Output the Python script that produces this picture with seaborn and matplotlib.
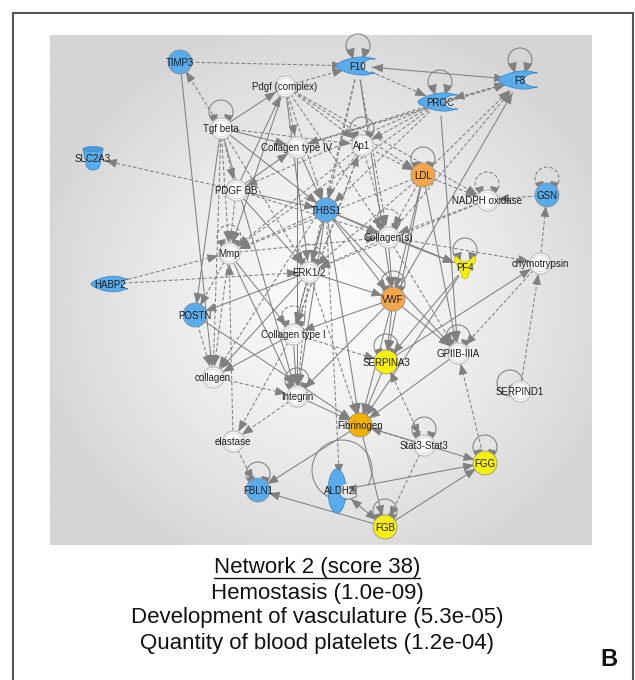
import numpy as np
import pandas as pd
import matplotlib
matplotlib.use("Agg")
import matplotlib.pyplot as plt
from matplotlib.patches import Polygon, Ellipse
import seaborn as sns

sns.set_theme(style="white")
plt.rcParams["font.family"] = ["Liberation Sans", "DejaVu Sans"]

# ---- network nodes -------------------------------------------------------
node_names = ["TIMP3", "F10", "F8", "PROC", "Pdgf (complex)", "Tgf beta", "SLC2A3",
              "Collagen type IV", "Ap1", "LDL", "NADPH oxidase", "GSN", "PDGF BB",
              "THBS1", "Collagen(s)", "PF4", "chymotrypsin", "Mmp", "ERK1/2", "HABP2",
              "POSTN", "VWF", "Collagen type I", "SERPINA3", "GPIIB-IIIA", "collagen",
              "Integrin", "SERPIND1", "Fibrinogen", "elastase", "Stat3-Stat3", "FGG",
              "FBLN1", "ALDH2", "FGB"]
node_x = [180, 358, 520, 440, 285, 221, 93, 297, 362, 423, 487, 547, 236, 326, 388,
          465, 540, 229, 309, 110, 195, 393, 293, 386, 458, 213, 297, 520, 360, 233,
          424, 485, 258, 340, 385]
node_y = [62, 66, 80, 102, 86, 128, 158, 147, 145, 175, 200, 195, 190, 210, 237,
          267, 263, 253, 272, 284, 315, 299, 334, 362, 353, 377, 396, 391, 425, 441,
          445, 463, 490, 490, 527]
node_kind = ["blue", "enzyme", "enzyme", "enzyme", "white", "white", "transporter",
             "white", "white", "orange", "white", "blue", "white",
             "blue", "white", "cytokine", "white", "white", "white", "peptidase",
             "blue", "orange", "white", "yellow", "white", "white",
             "white", "white", "gold", "white", "white", "yellow",
             "blue", "aldh", "yellow"]

# nodes drawn with a self-referencing loop
self_loops = ["F10", "F8", "PROC", "Tgf beta", "Ap1", "LDL", "NADPH oxidase", "GSN",
              "Collagen(s)", "PF4", "Mmp", "ERK1/2", "Collagen type I", "Integrin",
              "SERPINA3", "GPIIB-IIIA", "FBLN1", "Stat3-Stat3", "FGG", "FGB", "VWF"]
dashed_loops = ["GSN", "Collagen type I", "Mmp", "ERK1/2", "NADPH oxidase", "Collagen(s)"]

# ---- relationships: source, target, style (s solid / d dashed) -------------
edge_src = ["Tgf beta", "TIMP3", "Pdgf (complex)", "TIMP3", "Tgf beta", "Tgf beta", "Tgf beta",
            "Tgf beta", "Tgf beta", "Tgf beta", "Tgf beta", "Tgf beta", "Tgf beta", "Tgf beta",
            "Pdgf (complex)", "Pdgf (complex)", "Pdgf (complex)", "Pdgf (complex)",
            "Pdgf (complex)", "Pdgf (complex)", "Pdgf (complex)", "Pdgf (complex)",
            "PDGF BB", "PDGF BB", "PDGF BB", "PDGF BB", "PDGF BB", "PDGF BB", "PDGF BB",
            "Collagen type IV", "Collagen type IV", "Collagen type IV",
            "Ap1", "Ap1", "Ap1", "Ap1", "Ap1",
            "F10", "F10", "F10", "F10", "F10", "F10",
            "PROC", "PROC", "PROC", "PROC", "PROC", "PROC", "PROC",
            "VWF", "Collagen(s)", "LDL",
            "LDL", "LDL", "LDL", "LDL", "LDL", "LDL", "LDL",
            "GSN", "chymotrypsin", "NADPH oxidase", "NADPH oxidase",
            "THBS1", "THBS1", "THBS1", "THBS1", "THBS1", "THBS1", "THBS1", "THBS1", "THBS1",
            "THBS1",
            "Collagen(s)", "Collagen(s)", "Collagen(s)", "Collagen(s)", "Collagen(s)",
            "PF4", "PF4", "HABP2", "HABP2",
            "Mmp", "Mmp", "Mmp", "Mmp", "elastase", "Mmp",
            "ERK1/2", "ERK1/2", "ERK1/2", "ERK1/2", "ERK1/2", "ERK1/2",
            "POSTN", "POSTN",
            "Collagen type I", "Collagen type I", "Collagen type I", "Collagen type I",
            "VWF", "VWF", "VWF", "VWF", "VWF",
            "SERPINA3", "SERPINA3", "SERPINA3",
            "GPIIB-IIIA", "chymotrypsin", "SERPIND1",
            "collagen", "Integrin", "Integrin", "elastase",
            "Fibrinogen", "FGB", "Fibrinogen", "Fibrinogen",
            "Stat3-Stat3", "Stat3-Stat3", "FGB", "ALDH2", "ALDH2", "FGG",
            "Collagen type I", "Collagen type IV"]
edge_dst = ["TIMP3", "F10", "F10", "collagen", "Pdgf (complex)", "Collagen type IV", "Ap1",
            "PDGF BB", "Mmp", "POSTN", "collagen", "THBS1", "ERK1/2", "Integrin",
            "Collagen type IV", "Ap1", "THBS1", "ERK1/2",
            "Mmp", "Collagen(s)", "LDL", "NADPH oxidase",
            "SLC2A3", "Pdgf (complex)", "Collagen type IV", "THBS1", "Mmp", "ERK1/2",
            "Collagen(s)",
            "THBS1", "Integrin", "F8",
            "Mmp", "Collagen(s)", "collagen", "Collagen type I", "LDL",
            "F8", "PROC", "Collagen(s)", "THBS1", "VWF", "ERK1/2",
            "F8", "THBS1", "Ap1", "Collagen type IV", "PDGF BB", "GPIIB-IIIA", "Mmp",
            "F8", "F8", "F8",
            "NADPH oxidase", "VWF", "SERPINA3", "GPIIB-IIIA", "ERK1/2", "Collagen(s)", "Mmp",
            "NADPH oxidase", "GSN", "ERK1/2", "Collagen(s)",
            "ERK1/2", "Collagen(s)", "VWF", "PF4", "Collagen type I", "Integrin",
            "Fibrinogen", "GPIIB-IIIA", "Mmp",
            "ALDH2",
            "PF4", "chymotrypsin", "VWF", "GPIIB-IIIA", "ERK1/2",
            "Fibrinogen", "SERPINA3", "ERK1/2", "Mmp",
            "POSTN", "collagen", "Collagen type I", "Integrin", "Mmp", "Collagen(s)",
            "POSTN", "Collagen type I", "Integrin", "VWF", "Fibrinogen", "collagen",
            "collagen", "Fibrinogen",
            "Integrin", "collagen", "SERPINA3", "elastase",
            "SERPINA3", "Fibrinogen", "GPIIB-IIIA", "Collagen type I", "Integrin",
            "chymotrypsin", "Fibrinogen", "Stat3-Stat3",
            "Fibrinogen", "GPIIB-IIIA", "chymotrypsin",
            "Integrin", "Fibrinogen", "elastase", "FBLN1",
            "FBLN1", "FBLN1", "FGG", "FGB",
            "FGB", "Fibrinogen", "FGG", "FGG", "FGB", "GPIIB-IIIA",
            "Ap1", "F8"]
edge_style = ["d", "d", "d", "s", "s", "s", "d",
              "d", "d", "s", "d", "s", "d", "s",
              "d", "d", "d", "s",
              "s", "d", "d", "d",
              "d", "s", "s", "s", "d", "s",
              "d",
              "s", "s", "d",
              "d", "d", "d", "d", "d",
              "s", "d", "d", "d", "s", "d",
              "d", "d", "d", "d", "d", "s", "d",
              "s", "d", "d",
              "d", "s", "s", "s", "d", "d", "d",
              "d", "d", "d", "d",
              "s", "s", "s", "s", "s", "s",
              "s", "s", "d",
              "d",
              "s", "d", "s", "d", "d",
              "s", "s", "d", "d",
              "d", "d", "s", "s", "d", "d",
              "s", "d", "d", "s", "d", "s",
              "d", "s",
              "s", "s", "d", "d",
              "s", "s", "s", "s", "s",
              "s", "s", "d",
              "s", "d", "d",
              "d", "s", "d", "d",
              "s", "s", "s", "s",
              "d", "d", "s", "s", "s", "d",
              "d", "d"]
edge_both = ["F10|F8", "PROC|F8", "SERPINA3|Stat3-Stat3", "ALDH2|FGB"]

# ---- caption --------------------------------------------------------------
cap_title = "Network 2 (score 38)"
cap_lines = ["Hemostasis (1.0e-09)", "Development of vasculature (5.3e-05)",
             "Quantity of blood platelets (1.2e-04)"]
panel_letter = "B"

# ---- figure -------------------------------------------------------------
W, H = 635, 680
fig = plt.figure(figsize=(W / 100, H / 100), dpi=100)
ax = fig.add_axes([0, 0, 1, 1])
ax.set_xlim(0, W)
ax.set_ylim(H, 0)
ax.axis("off")

# grey panel with a soft radial gradient
px0, px1, py0, py1 = 50, 592, 35, 545
gx, gy = np.meshgrid(np.linspace(px0, px1, 300), np.linspace(py0, py1, 300))
dist = np.sqrt(((gx - 330) / 300) ** 2 + ((gy - 300) / 290) ** 2)
shade = 251 - 38 * np.clip(dist, 0, 1) ** 1.3
ax.imshow(shade, cmap="gray", vmin=0, vmax=255, extent=[px0, px1, py1, py0],
          zorder=0, interpolation="bilinear", aspect="auto")

# outer frame
frame_kw = dict(color="#555555", lw=1.5, solid_capstyle="butt", zorder=10)
ax.plot([12.5, 12.5], [12, H], **frame_kw)
ax.plot([12, 632.5], [12.5, 12.5], **frame_kw)
ax.plot([632.5, 632.5], [12, H], **frame_kw)

pos = {n: np.array([x, y], float) for n, x, y in zip(node_names, node_x, node_y)}
kind = dict(zip(node_names, node_kind))
radius = {"white": 10, "blue": 10, "orange": 10, "gold": 10, "yellow": 10,
          "enzyme": 14, "transporter": 12, "peptidase": 13, "cytokine": 11, "aldh": 14}

ecol = "#808080"


def head(tip, u):
    ax.annotate("", xy=tip, xytext=tip - u * 7,
                arrowprops=dict(arrowstyle="-|>,head_length=0.55,head_width=0.22",
                                color=ecol, lw=0.7, shrinkA=0, shrinkB=0), zorder=2)


for s, t, st in zip(edge_src, edge_dst, edge_style):
    p, q = pos[s], pos[t]
    u = (q - p) / np.linalg.norm(q - p)
    a = p + u * radius[kind[s]]
    b = q - u * (radius[kind[t]] + 1)
    ls = (0, (3.5, 2.0)) if st == "d" else "-"
    ax.plot([a[0], b[0]], [a[1], b[1]], color=ecol, lw=0.75, ls=ls, zorder=1)
    head(b, u)
    if f"{s}|{t}" in edge_both or f"{t}|{s}" in edge_both:
        head(a, -u)

# self loops above the nodes
for n in self_loops:
    x, y = pos[n]
    r = 12
    cy = y - radius[kind[n]] - 6
    th = np.radians(np.linspace(118, 422, 80))
    lx, ly = x + r * np.cos(th), cy + r * np.sin(th)
    ls = (0, (3.5, 2.0)) if n in dashed_loops else "-"
    ax.plot(lx, ly, color=ecol, lw=0.75, ls=ls, zorder=1)
    u = np.array([-0.25, 1.0]); u /= np.linalg.norm(u)
    head(np.array([lx[-1], ly[-1]]) + u * 3, u)
    u2 = np.array([0.25, 1.0]); u2 /= np.linalg.norm(u2)
    head(np.array([lx[0], ly[0]]) + u2 * 3, u2)

# SERPIND1 loop sits on its left, ALDH2 has a wide loop
for n, (ox, oy, r) in {"SERPIND1": (-10, -8, 13), "ALDH2": (2, -20, 30)}.items():
    x, y = pos[n]
    th = np.radians(np.linspace(60, 390, 90))
    lx, ly = x + ox + r * np.cos(th), y + oy + r * np.sin(th)
    ax.plot(lx, ly, color=ecol, lw=0.75, zorder=1)
    head(np.array([lx[0], ly[0]]), np.array([0.4, 0.9]) / np.linalg.norm([0.4, 0.9]))

# ---- node glyphs ----------------------------------------------------------
fills = {"blue": "#5AABEA", "orange": "#F5A64B", "gold": "#F2B100", "yellow": "#F7EE12",
         "enzyme": "#5AABEA", "transporter": "#5AABEA", "peptidase": "#5AABEA",
         "cytokine": "#F7EE12", "aldh": "#5AABEA"}
edges_c = {"#5AABEA": "#3E8CCB", "#F5A64B": "#D98A30", "#F2B100": "#D29600",
           "#F7EE12": "#CFC600"}

df = pd.DataFrame({"name": node_names, "x": node_x, "y": node_y, "kind": node_kind})
white = df[df.kind == "white"]
colored = df[df.kind.isin(["blue", "orange", "gold", "yellow"])]

# white nodes: pale double ring
sns.scatterplot(data=white, x="x", y="y", s=230, color="white", edgecolor="#c4c4c4",
                linewidth=1.0, ax=ax, zorder=3, legend=False)
sns.scatterplot(data=white, x="x", y="y", s=140, color="white", edgecolor="#dcdcdc",
                linewidth=0.8, ax=ax, zorder=3, legend=False)
sns.scatterplot(data=colored, x="x", y="y", hue="kind", s=300,
                palette={k: fills[k] for k in ["blue", "orange", "gold", "yellow"]},
                edgecolor="#8a8a8a", linewidth=0.5, ax=ax, zorder=3, legend=False)


def add_poly(pts, color):
    ax.add_patch(Polygon(pts, closed=True, facecolor=color,
                         edgecolor=edges_c[color], lw=0.6, zorder=3))


def crescent(a, b, open_deg=35, notch_depth=0.5, notch_h=0.6, taper=0.45):
    """Leaf-like outline pointing left with a concave notch cut on its right side."""
    th = np.radians(np.linspace(open_deg, 360 - open_deg, 80))
    shrink = 1 - taper * (1 - (1 + np.cos(th)) / 2) ** 2
    outer = np.c_[a * np.cos(th), b * np.sin(th) * shrink]
    c0 = a * np.cos(np.radians(open_deg)) * 1.12
    ph = np.radians(np.linspace(-90, -270, 40))
    inner = np.c_[c0 + notch_depth * a * np.cos(ph), notch_h * b * np.sin(ph)]
    return np.vstack([outer, inner])


for n, k in zip(node_names, node_kind):
    x, y = pos[n]
    if k == "enzyme":
        add_poly(crescent(22, 10, open_deg=45, notch_depth=0.62, notch_h=0.72) + [x, y],
                 fills[k])
    elif k == "peptidase":
        add_poly(crescent(19, 8.5, open_deg=32, notch_depth=0.32, notch_h=0.6) + [x, y],
                 fills[k])
    elif k == "transporter":
        th = np.radians(np.linspace(0, 180, 30))
        bottom = np.c_[7 * np.cos(th), 6 + 6 * np.sin(th)]
        pts = np.vstack([[[-10, -9], [10, -9], [7, 6]], bottom, [[-7, 6]]])
        add_poly(pts + np.array([x, y]), fills[k])
        ax.add_patch(Ellipse((x, y - 9), 20, 5, facecolor="#4A9BDA",
                             edgecolor="#3E8CCB", lw=0.5, zorder=3))
    elif k == "cytokine":
        pts = np.array([[-9, -11], [-3, -5], [0, -6], [3, -5], [9, -11], [11, -7],
                        [5, 3], [3, 10], [0, 12], [-3, 10], [-5, 3], [-11, -7]], float)
        add_poly(pts + np.array([x, y]), fills[k])
    elif k == "aldh":
        shape = crescent(9, 22, open_deg=25, notch_depth=0.75, notch_h=0.35, taper=0.0)
        add_poly(shape + [x - 3, y + 1], fills[k])

# labels
for n in node_names:
    x, y = pos[n]
    ax.text(x, y + 1, n, ha="center", va="center", fontsize=7, color="#1e1e1e", zorder=5)

# ---- caption --------------------------------------------------------------
cap_x = 317
t0 = ax.text(cap_x, 567, cap_title, ha="center", va="center", fontsize=16, color="#111111")
for txt, yy in zip(cap_lines, [593, 618, 643]):
    ax.text(cap_x, yy, txt, ha="center", va="center", fontsize=16, color="#111111")
fig.canvas.draw()
bb = t0.get_window_extent().transformed(ax.transData.inverted())
ul_x = [min(bb.x0, bb.x1), max(bb.x0, bb.x1)]
ax.plot(ul_x, [578, 578], color="#111111", lw=1.0)
ax.text(609, 660, panel_letter, ha="center", va="center", fontsize=17, fontweight="bold",
        color="#111111")

fig.savefig("out.png", dpi=100)
